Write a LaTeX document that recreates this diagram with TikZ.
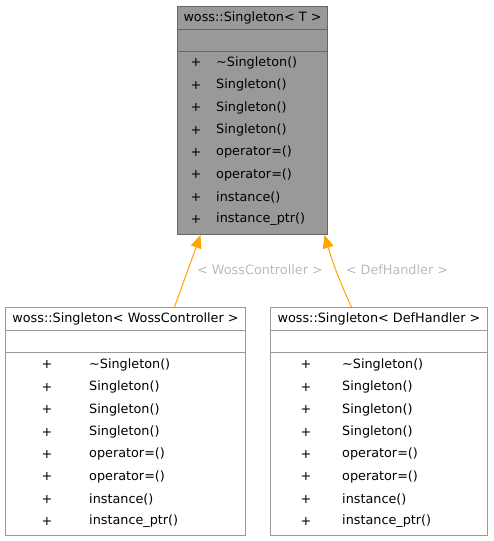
\documentclass[tikz,border=0pt]{standalone}
\usepackage{fontspec}
\setmainfont{DejaVu Sans}
\usetikzlibrary{arrows.meta}
\definecolor{boxgray}{HTML}{999999}
\definecolor{edgegray}{HTML}{666666}
\definecolor{labelgray}{HTML}{BBBBBB}
\definecolor{arrorange}{HTML}{FFA500}
\tikzset{
  classbox/.style={draw=boxgray, line width=1pt, anchor=north west, inner sep=0pt, minimum height=228pt},
  member/.style={anchor=west, inner sep=0pt},
  inherit/.style={draw=arrorange, line width=1pt, -{Triangle[length=13pt,width=11pt]}},
  tmpl/.style={text=labelgray, inner sep=0pt},
}
\begin{document}
\begin{tikzpicture}[x=1pt,y=-1pt,font=\fontsize{12.8}{15}\selectfont]
\useasboundingbox (0,0) rectangle (493,541);
\node[classbox, draw=edgegray, fill=boxgray, minimum width=150pt] (T) at (177,6) {};
\node[classbox, fill=white, minimum width=240pt] (W) at (5,307) {};
\node[classbox, fill=white, minimum width=217pt] (D) at (270,307) {};
\path[draw=edgegray] ([yshift=-23pt]T.north west) -- ([yshift=-23pt]T.north east);
\path[draw=edgegray] ([yshift=-45.5pt]T.north west) -- ([yshift=-45.5pt]T.north east);
\path[draw=boxgray,line width=1pt] ([yshift=-23pt]W.north west) -- ([yshift=-23pt]W.north east);
\path[draw=boxgray,line width=1pt] ([yshift=-45.5pt]W.north west) -- ([yshift=-45.5pt]W.north east);
\path[draw=boxgray,line width=1pt] ([yshift=-23pt]D.north west) -- ([yshift=-23pt]D.north east);
\path[draw=boxgray,line width=1pt] ([yshift=-45.5pt]D.north west) -- ([yshift=-45.5pt]D.north east);
\node (T-title) at ([yshift=-11.5pt]T.north) {woss::Singleton< T >};
\node (W-title) at ([yshift=-11.5pt]W.north) {woss::Singleton< WossController >};
\node (D-title) at ([yshift=-11.5pt]D.north) {woss::Singleton< DefHandler >};
\foreach \b/\y/\px/\mx in {T/40.6/196/216, W/342.6/47/89, D/342.6/306/342}
  \foreach \m [count=\i] in {\textasciitilde Singleton(), Singleton(), Singleton(), Singleton(),
                            operator=(), operator=(), instance(), instance\_ptr()} {
    \node (\b-p\i) at (\px,\y+22.35*\i) {+};
    \node[member] (\b-m\i) at (\mx,\y+22.35*\i) {\m};
  }
\path[inherit] ([xshift=49pt]W.north) -- ([xshift=-52pt]T.south);
\path[inherit] ([xshift=-27.5pt]D.north) to[bend left=4] ([xshift=72pt]T.south);
\node[tmpl] (l-wc) at (260,270) {< WossController >};
\node[tmpl] (l-dh) at (397,270) {< DefHandler >};
\end{tikzpicture}
\end{document}
